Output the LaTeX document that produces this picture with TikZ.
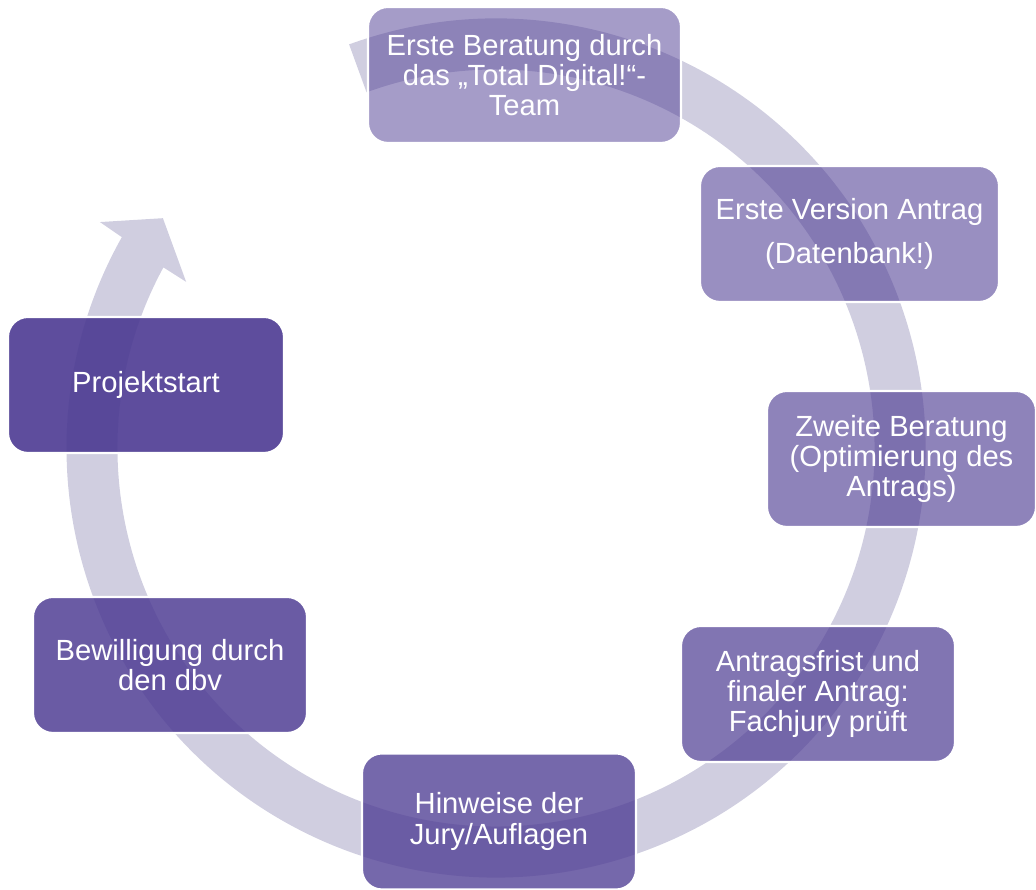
\documentclass[tikz,border=0pt]{standalone}
\usepackage{fontspec}
\setmainfont{Liberation Sans}
\definecolor{ringcol}{RGB}{208,206,224}
\definecolor{stagecol}{RGB}{76,58,146}
\tikzset{stage/.style={rectangle, rounded corners=0.2cm, fill=stagecol, fill opacity=#1, text opacity=1, draw=white, line width=0.6pt, text=white, align=center, minimum height=1.36cm, inner sep=0pt, font=\fontsize{8.3}{8.6}\selectfont}}

\begin{document}
\begin{tikzpicture}
			\useasboundingbox (0,0) rectangle (10.36,8.9);
			\fill[ringcol, shift={(4.96,4.42)}] (110:4.295) arc[start angle=110, end angle=-209.4, radius=4.295] -- (150.3:4.56) -- (145.4:4.047) -- (151.8:3.516) -- (151.5:3.785) arc[start angle=-208.5, end angle=110, radius=3.785] -- cycle;
			\node[stage=0.5, minimum width=3.13cm] (beratung) at (5.245,8.15) {Erste Beratung durch\\das „Total Digital!“-\\Team};
			\node[stage=0.567, minimum width=2.99cm] (version) at (8.495,6.56) {Erste Version Antrag\\[3.7pt](Datenbank!)};
			\node[stage=0.633, minimum width=2.69cm] (zweite) at (9.015,4.31) {Zweite Beratung\\(Optimierung des\\Antrags)};
			\node[stage=0.7, minimum width=2.74cm] (frist) at (8.18,1.96) {Antragsfrist und\\finaler Antrag:\\Fachjury prüft};
			\node[stage=0.767, minimum width=2.74cm] (hinweise) at (4.99,0.685) {Hinweise der\\Jury/Auflagen};
			\node[stage=0.833, minimum width=2.74cm] (bewilligung) at (1.70,2.25) {Bewilligung durch\\den dbv};
			\node[stage=0.9, minimum width=2.76cm] (start) at (1.46,5.05) {Projektstart};
		\end{tikzpicture}
\end{document}
